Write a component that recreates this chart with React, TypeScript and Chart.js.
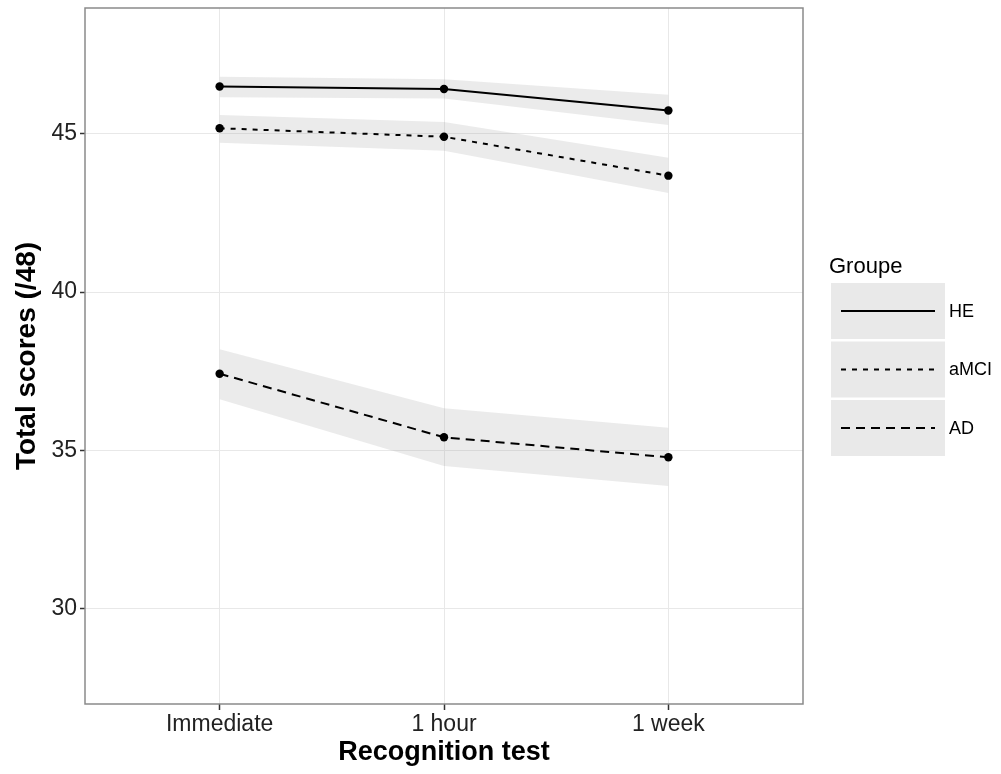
import React, { useEffect, useRef } from "react";
import { Chart, registerables } from "chart.js";

Chart.register(...registerables);

const categories = ["Immediate", "1 hour", "1 week"];
const groups = ["HE", "aMCI", "AD"];
const heMean = [46.5, 46.42, 45.74];
const heLower = [46.16, 46.12, 45.28];
const heUpper = [46.81, 46.73, 46.24];
const amciMean = [45.18, 44.91, 43.68];
const amciLower = [44.72, 44.47, 43.13];
const amciUpper = [45.6, 45.38, 44.25];
const adMean = [37.42, 35.41, 34.78];
const adLower = [36.61, 34.5, 33.87];
const adUpper = [38.19, 36.33, 35.71];
const yTicks = [30, 35, 40, 45];
const groupDashes: number[][] = [[], [5, 6], [9, 6]];

const FONT = "'Liberation Sans', Arial, Helvetica, sans-serif";
const RIBBON = "rgba(153,153,153,0.2)";

const toPts = (arr: number[]) => arr.map((v, i) => ({ x: i, y: v }));

const legendPlugin = {
  id: "ggLegend",
  afterDraw(chart: any) {
    const ctx = chart.ctx;
    ctx.save();
    ctx.fillStyle = "#000";
    ctx.font = `22px ${FONT}`;
    ctx.textBaseline = "middle";
    ctx.textAlign = "left";
    ctx.fillText("Groupe", 829, 267);
    const boxX = 831;
    const boxW = 114;
    const boxH = 56;
    const top0 = 283;
    const step = 58.5;
    groups.forEach((g, i) => {
      const y0 = top0 + i * step;
      ctx.fillStyle = "#e9e9e9";
      ctx.fillRect(boxX, y0, boxW, boxH);
      const cy = y0 + boxH / 2;
      ctx.strokeStyle = "#000";
      ctx.lineWidth = 2;
      ctx.setLineDash(groupDashes[i]);
      ctx.beginPath();
      ctx.moveTo(841, cy);
      ctx.lineTo(935, cy);
      ctx.stroke();
      ctx.setLineDash([]);
      ctx.fillStyle = "#000";
      ctx.font = `18px ${FONT}`;
      ctx.fillText(g, 949, cy + 1);
    });
    ctx.restore();
  },
};

const borderPlugin = {
  id: "panelBorder",
  afterDatasetsDraw(chart: any) {
    const { ctx, chartArea } = chart;
    ctx.save();
    ctx.strokeStyle = "#8a8a8a";
    ctx.lineWidth = 1.5;
    ctx.strokeRect(chartArea.left, chartArea.top, chartArea.right - chartArea.left, chartArea.bottom - chartArea.top);
    ctx.restore();
  },
};

export default function App() {
  const ref = useRef<HTMLCanvasElement | null>(null);

  useEffect(() => {
    if (!ref.current) return;
    const lineDs = (label: string, data: number[], dash: number[]) => ({
      type: "line",
      label,
      data: toPts(data),
      borderColor: "#000",
      backgroundColor: "#000",
      borderWidth: 2,
      borderDash: dash,
      pointRadius: 4.2,
      pointBackgroundColor: "#000",
      pointBorderWidth: 0,
      fill: false,
      tension: 0,
      order: 0,
    });
    const upperDs = (data: number[]) => ({
      label: "upper",
      data: toPts(data),
      borderWidth: 0,
      borderColor: "rgba(0,0,0,0)",
      pointRadius: 0,
      fill: false,
      tension: 0,
      order: 5,
    });
    const lowerDs = (data: number[]) => ({
      label: "lower",
      data: toPts(data),
      borderWidth: 0,
      borderColor: "rgba(0,0,0,0)",
      backgroundColor: RIBBON,
      pointRadius: 0,
      fill: "-1",
      tension: 0,
      order: 5,
    });

    const chart = new Chart(ref.current, {
      type: "line",
      data: {
        datasets: [
          upperDs(heUpper),
          lowerDs(heLower),
          upperDs(amciUpper),
          lowerDs(amciLower),
          upperDs(adUpper),
          lowerDs(adLower),
          lineDs(groups[0], heMean, groupDashes[0]),
          lineDs(groups[1], amciMean, groupDashes[1]),
          lineDs(groups[2], adMean, groupDashes[2]),
        ] as any,
      },
      options: {
        animation: false,
        responsive: false,
        events: [],
        layout: { padding: { top: 8, right: 198, left: 0, bottom: 0 } },
        plugins: {
          legend: { display: false },
          tooltip: { enabled: false },
        },
        scales: {
          x: {
            type: "linear",
            min: -0.6,
            max: 2.6,
            afterFit: (s: any) => {
              s.height = 70;
              s.paddingLeft = 0;
              s.paddingRight = 0;
            },
            afterBuildTicks: (s: any) => {
              s.ticks = categories.map((_, i) => ({ value: i }));
            },
            border: { display: false },
            grid: {
              color: "#e8e8e8",
              lineWidth: 1,
              drawTicks: true,
              tickLength: 6,
              tickColor: "#333",
              tickWidth: 1.5,
            },
            ticks: {
              color: "#222",
              font: { family: FONT, size: 23 },
              padding: 1,
              maxRotation: 0,
              autoSkip: false,
              callback: (v: any) => categories[Number(v)] ?? "",
            },
            title: {
              display: true,
              text: "Recognition test",
              color: "#000",
              font: { family: FONT, size: 27, weight: "bold" },
              padding: { top: 0, bottom: 5 },
            },
          },
          y: {
            type: "linear",
            min: 26.98,
            max: 48.98,
            afterFit: (s: any) => {
              s.width = 85;
              s.paddingTop = 0;
              s.paddingBottom = 0;
            },
            afterBuildTicks: (s: any) => {
              s.ticks = yTicks.map((v) => ({ value: v }));
            },
            border: { display: false },
            grid: {
              color: "#e8e8e8",
              lineWidth: 1,
              drawTicks: true,
              tickLength: 5,
              tickColor: "#333",
              tickWidth: 1.5,
            },
            ticks: {
              color: "#222",
              font: { family: FONT, size: 23 },
              padding: 3,
              autoSkip: false,
              callback: (v: any) => String(v),
            },
            title: {
              display: true,
              text: "Total scores (/48)",
              color: "#000",
              font: { family: FONT, size: 28, weight: "bold" },
              padding: { top: 10, bottom: 0 },
            },
          },
        },
      } as any,
      plugins: [borderPlugin, legendPlugin],
    });
    return () => chart.destroy();
  }, []);

  return (
    <div style={{ position: "absolute", left: 0, top: 0, width: 1001, height: 774, background: "#fff" }}>
      <canvas ref={ref} width={1001} height={774} style={{ width: 1001, height: 774, display: "block" }} />
    </div>
  );
}
